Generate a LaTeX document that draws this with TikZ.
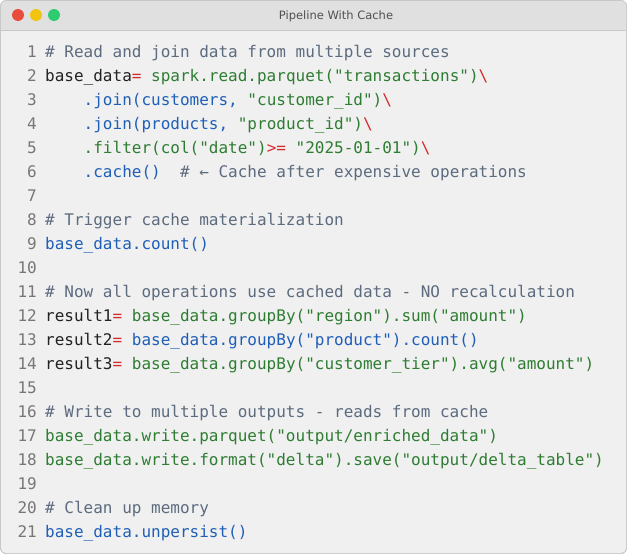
\documentclass[tikz,border=0pt]{standalone}
\usepackage{fontspec}
\setmonofont{DejaVu Sans Mono}
\setsansfont{DejaVu Sans}
\definecolor{bg}{HTML}{F0F0F0}
\definecolor{bar}{HTML}{E0E0E0}
\definecolor{frame}{HTML}{C8C8C8}
\definecolor{cm}{HTML}{5C6B7E}
\definecolor{kw}{HTML}{222222}
\definecolor{op}{HTML}{D42A2A}
\definecolor{st}{HTML}{2E7D32}
\definecolor{fn}{HTML}{1F5FB8}
\definecolor{ln}{HTML}{777777}
\newcommand{\C}[1]{\textcolor{cm}{#1}}
\newcommand{\K}[1]{\textcolor{kw}{#1}}
\newcommand{\R}[1]{\textcolor{op}{#1}}
\newcommand{\G}[1]{\textcolor{st}{#1}}
\newcommand{\B}[1]{\textcolor{fn}{#1}}
\begin{document}
\begin{tikzpicture}[x=1pt,y=-1pt,
  code/.style={anchor=base west,inner sep=0pt,font=\ttfamily\fontsize{16}{16}\selectfont},
  num/.style={anchor=base east,inner sep=0pt,text=ln,font=\ttfamily\fontsize{16}{16}\selectfont},
  dot/.style={circle,inner sep=0pt,minimum size=12pt}]
\useasboundingbox (0,0) rectangle (627,554);
\fill[frame,rounded corners=6pt] (0,0) rectangle (627,554);
\fill[bg,rounded corners=5pt] (1,1) rectangle (626,553);
\fill[bar,rounded corners=5pt] (1,1) rectangle (626,30);
\fill[bar] (1,15) rectangle (626,30);
\draw[frame] (1,30.5) -- (626,30.5);
\node[dot,fill={rgb,255:red,231;green,76;blue,60}] (r) at (18,15) {};
\node[dot,fill={rgb,255:red,241;green,196;blue,15}] (y) at (36,15) {};
\node[dot,fill={rgb,255:red,46;green,204;blue,113}] (g) at (54,15) {};
\node[font=\sffamily\fontsize{11.5}{12}\selectfont,text={rgb,255:red,80;green,80;blue,80}] (title) at (336,16) {Pipeline With Cache};
\foreach \i in {1,...,21}{\node[num] (N\i) at (37,{57+24*(\i-1)}) {\i};}
\def\yy#1{{57+24*(#1-1)}}
\node[code] (L1) at (45,57) {\C{\# Read and join data from multiple sources}};
\node[code] (L2) at (45,81) {\K{base\_data}\R{ = }\G{spark.read.parquet("transactions")}\R{ \textbackslash}};
\node[code] (L3) at (45,105) {\B{\ \ \ \ .join(customers, }\G{"customer\_id")}\R{ \textbackslash}};
\node[code] (L4) at (45,129) {\B{\ \ \ \ .join(products, }\G{"product\_id")}\R{ \textbackslash}};
\node[code] (L5) at (45,153) {\G{\ \ \ \ .filter(col("date")}\R{ >= }\G{"2025-01-01")}\R{ \textbackslash}};
\node[code] (L6) at (45,177) {\B{\ \ \ \ .cache()}\C{\ \ \# ← Cache after expensive operations}};
\node[code] (L8) at (45,225) {\C{\# Trigger cache materialization}};
\node[code] (L9) at (45,249) {\B{base\_data.count()}};
\node[code] (L11) at (45,297) {\C{\# Now all operations use cached data - NO recalculation}};
\node[code] (L12) at (45,321) {\K{result1}\R{ = }\G{base\_data.groupBy("region").sum("amount")}};
\node[code] (L13) at (45,345) {\K{result2}\R{ = }\B{base\_data.groupBy("product").count()}};
\node[code] (L14) at (45,369) {\K{result3}\R{ = }\G{base\_data.groupBy("customer\_tier").avg("amount")}};
\node[code] (L16) at (45,417) {\C{\# Write to multiple outputs - reads from cache}};
\node[code] (L17) at (45,441) {\G{base\_data.write.parquet("output/enriched\_data")}};
\node[code] (L18) at (45,465) {\G{base\_data.write.format("delta").save("output/delta\_table")}};
\node[code] (L20) at (45,513) {\C{\# Clean up memory}};
\node[code] (L21) at (45,537) {\B{base\_data.unpersist()}};
\end{tikzpicture}
\end{document}
